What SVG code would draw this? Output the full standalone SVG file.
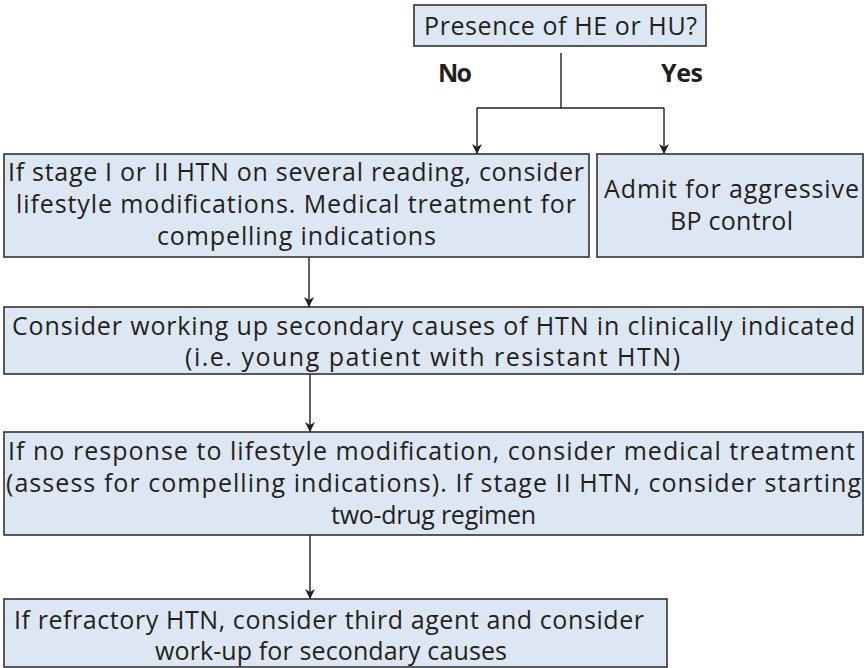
<svg xmlns="http://www.w3.org/2000/svg" width="865" height="668" viewBox="0 0 865 668">
  <defs>
    <marker id="arrow" viewBox="0 0 10 10" refX="10" refY="5" markerWidth="10" markerHeight="10" markerUnits="userSpaceOnUse" orient="auto">
      <path d="M0,0 L10,5 L0,10 L3,5 Z" fill="#231f20"/>
    </marker>
  </defs>
  <style>
    .box { fill: #dde7f3; stroke: #333333; stroke-width: 1.6; }
    .t { font-family: "Open Sans", "Noto Sans", "Liberation Sans", sans-serif; font-size: 25px; fill: #231f20; text-anchor: middle; }
    .lbl { font-family: "Open Sans", "Noto Sans", "Liberation Sans", sans-serif; font-size: 25px; font-weight: bold; fill: #231f20; text-anchor: middle; }
    .c { fill: none; stroke: #231f20; stroke-width: 1.4; }
  </style>
  <rect width="865" height="668" fill="#ffffff"/>

  <g id="connectors">
    <path class="c" d="M561,53 V108"/>
    <path class="c" d="M477,108 H664"/>
    <path class="c" d="M477,108 V154" marker-end="url(#arrow)"/>
    <path class="c" d="M664,108 V154" marker-end="url(#arrow)"/>
    <path class="c" d="M309,257 V307" marker-end="url(#arrow)"/>
    <path class="c" d="M310,374 V432" marker-end="url(#arrow)"/>
    <path class="c" d="M310,535 V599" marker-end="url(#arrow)"/>
    <text class="lbl" x="455" y="82" textLength="34">No</text>
    <text class="lbl" x="682" y="82" textLength="42">Yes</text>
  </g>

  <g id="question">
    <rect class="box" x="414" y="5" width="292" height="41"/>
    <text class="t" x="560.5" y="35" textLength="273">Presence of HE or HU?</text>
  </g>

  <g id="lifestyle">
    <rect class="box" x="4" y="154" width="585" height="103"/>
    <text class="t" x="296" y="181" textLength="576">If stage I or II HTN on several reading, consider</text>
    <text class="t" x="296" y="213" textLength="560">lifestyle modifications. Medical treatment for</text>
    <text class="t" x="296.5" y="245" textLength="279">compelling indications</text>
  </g>

  <g id="admit">
    <rect class="box" x="597" y="154" width="266" height="103"/>
    <text class="t" x="731.5" y="198" textLength="255">Admit for aggressive</text>
    <text class="t" x="731.5" y="230" textLength="123">BP control</text>
  </g>

  <g id="secondary">
    <rect class="box" x="4" y="307" width="859" height="67"/>
    <text class="t" x="433.5" y="335" textLength="843">Consider working up secondary causes of HTN in clinically indicated</text>
    <text class="t" x="432.5" y="366" textLength="495">(i.e. young patient with resistant HTN)</text>
  </g>

  <g id="medical">
    <rect class="box" x="4" y="432" width="859" height="103"/>
    <text class="t" x="431.5" y="460" textLength="847">If no response to lifestyle modification, consider medical treatment</text>
    <text class="t" x="433.5" y="492" textLength="855">(assess for compelling indications). If stage II HTN, consider starting</text>
    <text class="t" x="433.5" y="524" textLength="205">two-drug regimen</text>
  </g>

  <g id="refractory">
    <rect class="box" x="4" y="599" width="663" height="68"/>
    <text class="t" x="329" y="629" textLength="630">If refractory HTN, consider third agent and consider</text>
    <text class="t" x="331" y="660" textLength="352">work-up for secondary causes</text>
  </g>
</svg>
